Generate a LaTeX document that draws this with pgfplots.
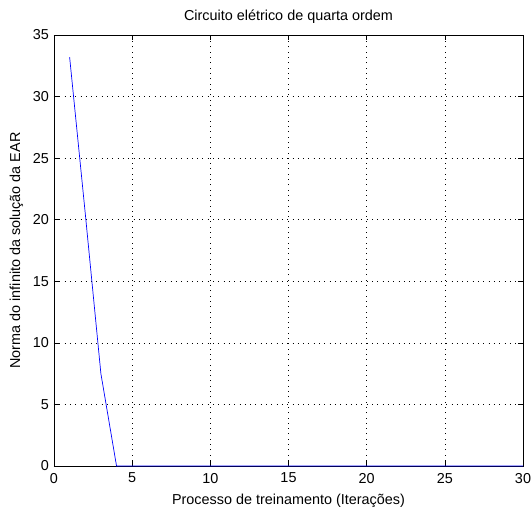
\documentclass[border=0pt]{standalone}
\usepackage{fontspec}
\setmainfont{Liberation Sans}
\usepackage{pgfplots}
\pgfplotsset{compat=1.18}
\begin{document}
\fontsize{14.4}{17}\selectfont
\begin{tikzpicture}
  \useasboundingbox (-54pt,-46pt) rectangle (478pt,466pt);
  \begin{axis}[
    at={(0pt,0pt)},anchor=south west,
    scale only axis,width=469pt,height=431pt,
    xmin=0,xmax=30,ymin=0,ymax=35,
    xtick={0,5,10,15,20,25,30},ytick={0,5,10,15,20,25,30,35},
    tick align=inside,tick pos=both,major tick length=5pt,
    grid=major,grid style={black,line width=0.5pt,dash pattern=on 0.8pt off 4.5pt},
    axis line style={black,line width=0.8pt},
    tick style={black,line width=0.5pt},
    /pgf/number format/assume math mode=true,
    title={Circuito elétrico de quarta ordem},
    xlabel={Processo de treinamento (Iterações)},
    ylabel={Norma do infinito da solução da EAR},
    xticklabel style={yshift=-2pt},
    xlabel style={yshift=-1pt},
    title style={yshift=1pt}]
  \addplot[blue,line width=0.7pt] coordinates {
    (1,33.2) (2,20.5) (3,7.5) (4,0) (5,0) (6,0) (7,0) (8,0) (9,0) (10,0)
    (11,0) (12,0) (13,0) (14,0) (15,0) (16,0) (17,0) (18,0) (19,0) (20,0)
    (21,0) (22,0) (23,0) (24,0) (25,0) (26,0) (27,0) (28,0) (29,0) (30,0)};
  \end{axis}
\end{tikzpicture}
\end{document}
